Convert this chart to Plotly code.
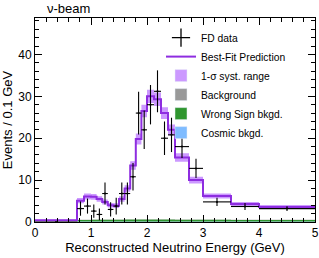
import plotly.graph_objects as go

# ---- data ----
bin_edges = [0, 0.75, 0.875, 1.0, 1.1, 1.2, 1.3, 1.4, 1.5, 1.6, 1.7, 1.8, 1.9, 2.0,
             2.125, 2.25, 2.375, 2.5, 2.75, 3.0, 3.5, 4.0, 5.0]
fd_data = [0, 3.2, 3.8, 2.6, 1.8, 6.8, 3.0, 3.8, 6.8, 6.8, 10.8, 26.0, 22.0, 28.0,
           31.2, 20.0, 20.8, 18.0, 12.8, 4.8, 3.7, 3.2]
fd_err = [0, 1.7, 1.8, 1.6, 1.4, 2.6, 1.7, 2.0, 2.6, 2.6, 3.3, 5.1, 4.6, 4.7,
          5.0, 4.0, 4.1, 2.7, 2.3, 1.0, 0.85, 0.57]
best_fit = [0.4, 5.1, 6.1, 6.0, 5.5, 4.8, 4.0, 3.9, 5.5, 8.0, 13.5, 19.8, 26.5, 30.0,
            29.3, 26.0, 22.0, 15.4, 10.0, 6.2, 4.3, 3.6]
syst_sigma = [0.15, 0.6, 0.7, 0.7, 0.65, 0.6, 0.55, 0.55, 0.65, 0.8, 1.0, 1.3, 1.5, 1.6,
              1.6, 1.4, 1.3, 1.0, 0.8, 0.6, 0.5, 0.45]
cosmic_bkg = [0, 0.12, 0.12, 0.12, 0.12, 0.12, 0.12, 0.12, 0.12, 0.12, 0.12, 0.12, 0.12,
              0.12, 0.12, 0.12, 0.12, 0.12, 0.12, 0.12, 0.12, 0.12]
wrong_sign = [0, 0.35, 0.38, 0.40, 0.40, 0.42, 0.42, 0.42, 0.44, 0.45, 0.46, 0.47, 0.47,
              0.47, 0.47, 0.46, 0.45, 0.44, 0.42, 0.40, 0.38, 0.36]
background = [0, 0.05, 0.05, 0.05, 0.05, 0.05, 0.05, 0.05, 0.06, 0.06, 0.06, 0.06, 0.06,
              0.06, 0.06, 0.06, 0.06, 0.06, 0.05, 0.05, 0.05, 0.05]

x_ticks = [0, 1, 2, 3, 4, 5]
y_ticks = [0, 10, 20, 30, 40]

C_LINE = "#8e2de0"
C_BAND = "#cc99ff"
C_GRAY = "#999999"
C_GREEN = "#2f962f"
C_BLUE = "#7fbcff"
FONT = "Liberation Sans, Arial, Helvetica, sans-serif"


def step(vals):
    return list(vals) + [vals[-1]]


centers = [(a + b) / 2 for a, b in zip(bin_edges[:-1], bin_edges[1:])]
halfw = [(b - a) / 2 for a, b in zip(bin_edges[:-1], bin_edges[1:])]

fig = go.Figure()

# stacked backgrounds
s1 = cosmic_bkg
s2 = [a + b for a, b in zip(s1, wrong_sign)]
s3 = [a + b for a, b in zip(s2, background)]
fig.add_trace(go.Scatter(x=bin_edges, y=step(s1), mode="lines", line=dict(width=0, shape="hv"),
                         fill="tozeroy", fillcolor=C_BLUE, showlegend=False, hoverinfo="skip"))
fig.add_trace(go.Scatter(x=bin_edges, y=step(s2), mode="lines", line=dict(width=0, shape="hv"),
                         fill="tonexty", fillcolor=C_GREEN, showlegend=False, hoverinfo="skip"))
fig.add_trace(go.Scatter(x=bin_edges, y=step(s3), mode="lines", line=dict(width=0, shape="hv"),
                         fill="tonexty", fillcolor=C_GRAY, showlegend=False, hoverinfo="skip"))

# systematic band
lower = [p - s for p, s in zip(best_fit, syst_sigma)]
upper = [p + s for p, s in zip(best_fit, syst_sigma)]
fig.add_trace(go.Scatter(x=bin_edges, y=step(lower), mode="lines", line=dict(width=0, shape="hv"),
                         showlegend=False, hoverinfo="skip"))
fig.add_trace(go.Scatter(x=bin_edges, y=step(upper), mode="lines", line=dict(width=0, shape="hv"),
                         fill="tonexty", fillcolor=C_BAND, showlegend=False, hoverinfo="skip"))

# best fit
fig.add_trace(go.Scatter(x=bin_edges, y=step(best_fit), mode="lines",
                         line=dict(color=C_LINE, width=2, shape="hv"), showlegend=False))

# data
fig.add_trace(go.Scatter(x=centers, y=fd_data, mode="markers",
                         marker=dict(size=2, color="black"),
                         error_x=dict(type="data", array=halfw, width=0, thickness=1.1, color="black"),
                         error_y=dict(type="data", array=fd_err, width=0, thickness=1.1, color="black"),
                         showlegend=False))

# legend entries
fig.add_trace(go.Scatter(x=[None], y=[None], mode="markers", name="FD data",
                         marker=dict(symbol="cross-thin", size=13, color="black",
                                     line=dict(width=1.3, color="black"))))
fig.add_trace(go.Scatter(x=[None], y=[None], mode="lines", name="Best-Fit Prediction",
                         line=dict(color=C_LINE, width=2)))
fig.add_trace(go.Bar(x=[None], y=[None], name="1-σ syst. range", marker_color=C_BAND))
fig.add_trace(go.Bar(x=[None], y=[None], name="Background", marker_color=C_GRAY))
fig.add_trace(go.Bar(x=[None], y=[None], name="Wrong Sign bkgd.", marker_color=C_GREEN))
fig.add_trace(go.Bar(x=[None], y=[None], name="Cosmic bkgd.", marker_color=C_BLUE))

axis_common = dict(showline=True, linecolor="black", linewidth=1, mirror="allticks",
                   ticks="inside", ticklen=7, tickwidth=1, tickcolor="black",
                   showgrid=False, zeroline=False, automargin=False,
                   tickfont=dict(family=FONT, size=12, color="black"))

fig.update_xaxes(range=[0, 5], tickvals=x_ticks,
                 minor=dict(dtick=0.2, ticks="inside", ticklen=4, tickcolor="black", showgrid=False),
                 title=dict(text="Reconstructed Neutrino Energy (GeV)",
                            font=dict(family=FONT, size=13, color="black"), standoff=2),
                 **axis_common)
fig.update_yaxes(range=[0, 48.7], tickvals=y_ticks,
                 minor=dict(dtick=2, ticks="inside", ticklen=4, tickcolor="black", showgrid=False),
                 title=dict(text="Events / 0.1 GeV",
                            font=dict(family=FONT, size=13, color="black"), standoff=2),
                 **axis_common)

fig.add_annotation(text="ν-beam", xref="paper", yref="paper", x=0.035, y=1.045,
                   xanchor="left", yanchor="middle", showarrow=False,
                   font=dict(family=FONT, size=13, color="black"))

fig.update_layout(
    width=319, height=258,
    margin=dict(l=35, r=4, t=18, b=36),
    paper_bgcolor="white", plot_bgcolor="white",
    barmode="overlay",
    legend=dict(x=0.45, y=0.975, xanchor="left", yanchor="top", traceorder="normal",
                bgcolor="rgba(0,0,0,0)", font=dict(family=FONT, size=10.3, color="black"),
                itemwidth=30, tracegroupgap=0),
)

fig.write_html("out.html", config={"displayModeBar": False},
               post_script="document.body.style.margin='0px';")
